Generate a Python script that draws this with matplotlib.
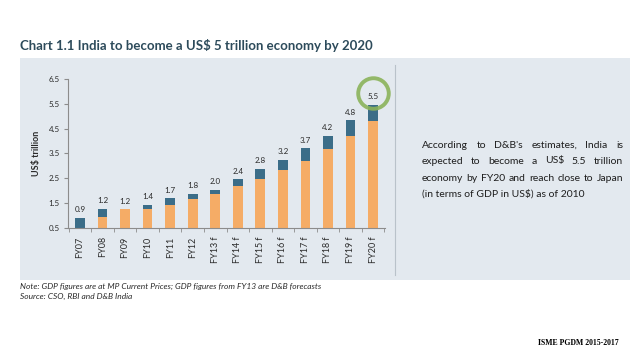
import numpy as np
import matplotlib
matplotlib.use("Agg")
import matplotlib.pyplot as plt
from matplotlib.patches import Rectangle

plt.rcParams['text.parse_math'] = False
plt.rcParams['font.family'] = ['Lato', 'DejaVu Sans']

# data (US$ trillion)
years = ['FY07', 'FY08', 'FY09', 'FY10', 'FY11', 'FY12', 'FY13 f', 'FY14 f',
         'FY15 f', 'FY16 f', 'FY17 f', 'FY18 f', 'FY19 f', 'FY20 f']
totals = [0.9, 1.2, 1.2, 1.4, 1.7, 1.8, 2.0, 2.4, 2.8, 3.2, 3.7, 4.2, 4.8, 5.5]
orange_part = [0.0, 0.95, 1.25, 1.27, 1.41, 1.67, 1.87, 2.2, 2.49, 2.82, 3.18, 3.68, 4.19, 4.8]
bar_tops = [0.92, 1.27, 1.25, 1.43, 1.69, 1.88, 2.04, 2.47, 2.88, 3.25, 3.72, 4.22, 4.84, 5.47]

note_lines = ["According to D&B's estimates, India is",
              "expected to become a US$ 5.5 trillion",
              "economy by FY20 and reach close to Japan",
              "(in terms of GDP in US$) as of 2010"]

W, H = 638, 359
fig = plt.figure(figsize=(W / 100, H / 100), dpi=100)
fig.patch.set_facecolor('white')

def fx(px):
    return px / W

def fy(py):
    return 1 - py / H

# panel background
fig.patches.append(Rectangle((fx(20), fy(280)), fx(610), 222 / H, transform=fig.transFigure,
                             facecolor='#e3e9ef', edgecolor='none', zorder=-5))
fig.add_artist(plt.Line2D([fx(395), fx(395)], [fy(65), fy(275)], transform=fig.transFigure,
                          color='#b9c2ca', lw=0.8, zorder=-4))

fig.text(fx(20), fy(45), "Chart 1.1 India to become a US$ 5 trillion economy by 2020",
         fontsize=9.5, fontweight='bold', color='#2d4b5b', va='center', ha='left')

ax = fig.add_axes([fx(68), fy(228), fx(317), 149 / H])
ax.set_facecolor('none')
x = np.arange(len(years))
blue_part = [t - o for t, o in zip(bar_tops, orange_part)]
ax.bar(x, orange_part, width=0.43, color='#f5ac66', zorder=2)
ax.bar(x, blue_part, bottom=orange_part, width=0.43, color='#3b6d88', zorder=2)

for i, t in enumerate(totals):
    ax.text(i, bar_tops[i] + 0.18, "%.1f" % t, ha='center', va='bottom',
            fontsize=5.8, color='#2a2a2a')

# green highlight circle around the last label
ax.plot([x[-1]], [bar_tops[-1] + 0.46], marker='o', markersize=22, markerfacecolor='none',
        markeredgecolor='#8bb35a', markeredgewidth=2.8, alpha=0.9, clip_on=False, zorder=3)

ax.set_xlim(-0.53, len(years) - 0.47)
ax.set_ylim(0.5, 6.5)
ax.set_yticks(np.arange(0.5, 6.6, 1.0))
ax.set_yticklabels(["%.1f" % v for v in np.arange(0.5, 6.6, 1.0)])
ax.set_xticks(x)
ax.set_xticklabels(years, rotation=90)
ax.set_xticks(np.arange(-0.5, len(years), 1.0), minor=True)
ax.tick_params(axis='x', which='major', length=0, labelsize=6.5, colors='#2a2a2a', pad=6)
ax.tick_params(axis='x', which='minor', length=3, color='#8c8c8c')
ax.tick_params(axis='y', length=3, labelsize=5.8, colors='#2a2a2a', color='#8c8c8c', pad=3)
for s in ['top', 'right']:
    ax.spines[s].set_visible(False)
for s in ['left', 'bottom']:
    ax.spines[s].set_color('#8c8c8c')
    ax.spines[s].set_linewidth(0.8)
ax.set_ylabel("US$ trillion", fontsize=6.5, fontweight='bold', color='#2a2a2a', labelpad=5)

# justified text block on the right
renderer = fig.canvas.get_renderer()
left, right = 422, 623
line_y = [145, 161, 178, 194]
for k, line in enumerate(note_lines):
    words = line.split(' ')
    if k == len(note_lines) - 1:
        fig.text(fx(left), fy(line_y[k]), line, fontsize=7.5, color='#1e1e1e', va='center')
        continue
    arts = [fig.text(0, fy(line_y[k]), w_, fontsize=7.5, color='#1e1e1e', va='center') for w_ in words]
    widths = [a.get_window_extent(renderer).width for a in arts]
    gap = (right - left - sum(widths)) / (len(words) - 1)
    pos = left
    for a, wd in zip(arts, widths):
        a.set_x(fx(pos))
        pos += wd + gap

fig.text(fx(20), fy(286), "Note: GDP figures are at MP Current Prices; GDP figures from FY13 are D&B forecasts",
         fontsize=6, style='italic', color='#2a2a2a', va='center')
fig.text(fx(20), fy(296), "Source: CSO, RBI and D&B India",
         fontsize=6, style='italic', color='#2a2a2a', va='center')

fig.text(fx(619), fy(343), "ISME PGDM 2015-2017", fontsize=5.6, fontweight='bold',
         family='Liberation Serif', color='black', ha='right', va='center')

fig.savefig('out.png', dpi=100)
